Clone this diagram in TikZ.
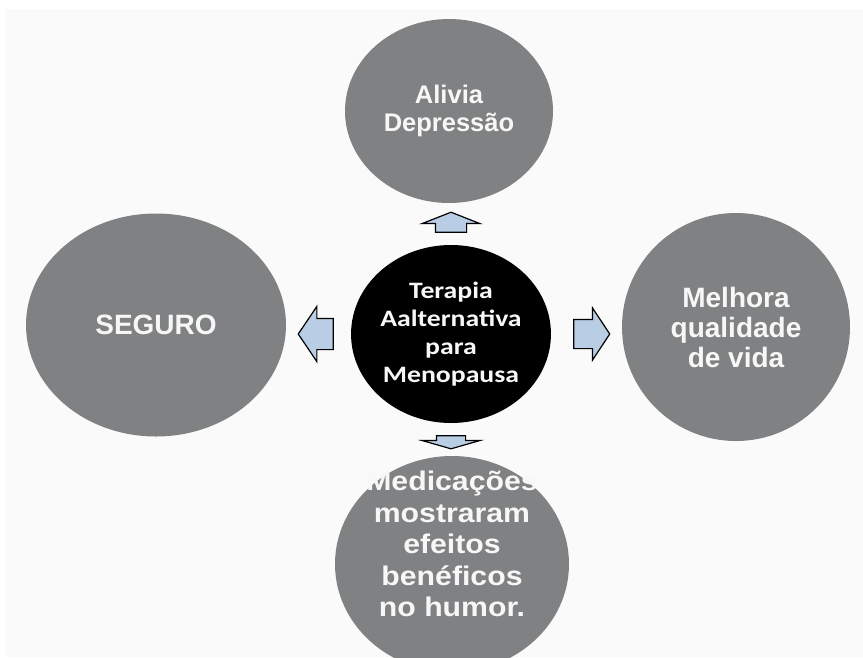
\documentclass[tikz,border=0pt]{standalone}
\usepackage{fontspec}
\setmainfont{Liberation Sans}
\newfontfamily\arialbreit[FakeStretch=1.12]{Liberation Sans}
\newfontfamily\calibrilargo[FakeStretch=1.18]{Carlito}
\usepackage{tikz}
\usetikzlibrary{positioning, shapes.geometric, shapes.arrows}

\definecolor{cinza}{HTML}{808182}
\definecolor{seta}{HTML}{B9CDE5}
\definecolor{fundo}{HTML}{FAFAFA}
\definecolor{branco}{HTML}{F7F7F7}

\begin{document}
\begin{tikzpicture}[x=1pt, y=-1pt,
  bolha/.style={ellipse, fill=cinza, inner sep=0pt, text=branco, align=center,
    font=\bfseries\fontsize{28}{30}\selectfont},
  rotulo/.style={inner sep=0pt, text=branco, align=center},
  seta/.style={single arrow, draw=black, fill=seta, line width=1.2pt,
    single arrow head indent=0pt}]
  \useasboundingbox (0,0) rectangle (863,657);
  \fill[fundo] (6,9) rectangle (863,657);

  \node[ellipse, fill=black, minimum width=190pt, minimum height=178pt, inner sep=0pt,
    text=branco, align=center, font=\calibrilargo\bfseries\fontsize{23.5}{28}\selectfont]
    (centro) at (451,334) {Terapia\\Aalternativa\\para\\Menopausa};
  \node[bolha, minimum width=208pt, minimum height=184pt,
    font=\bfseries\fontsize{25.5}{28}\selectfont] (alivia) at (449,111) {Alivia\\Depressão};
  \node[bolha, minimum width=260pt, minimum height=223pt] (seguro) at (156,325) {SEGURO};
  \node[bolha, minimum width=228pt, minimum height=228pt] (melhora) at (736,327)
    {Melhora\\qualidade\\de vida};
  \node[bolha, minimum width=234pt, minimum height=216pt,
    label={[rotulo, yshift=20pt, font=\arialbreit\bfseries\fontsize{27}{31.5}\selectfont]center:{Medicações\\mostraram\\efeitos\\benéficos\\no humor.}}]
    (humor) at (452,564) {};

  \node[seta, shape border rotate=90, inner xsep=15pt, inner ysep=0pt,
    minimum height=20pt, single arrow head extend=13pt, single arrow tip angle=137,
    above=12pt of centro, anchor=tail] (seta cima) {};
  \node[seta, shape border rotate=270, inner xsep=14pt, inner ysep=0pt,
    minimum height=13pt, single arrow head extend=14.5pt, single arrow tip angle=148,
    below=12pt of centro, anchor=tail] (seta baixo) {};
  \node[seta, shape border rotate=180, inner ysep=15pt, inner xsep=0pt,
    minimum height=35pt, single arrow head extend=12pt, single arrow tip angle=112,
    left=17pt of centro, anchor=tail] (seta esquerda) {};
  \node[seta, inner ysep=14pt, inner xsep=0pt,
    minimum height=36pt, single arrow head extend=11.5pt, single arrow tip angle=113,
    right=22pt of centro, anchor=tail] (seta direita) {};
\end{tikzpicture}
\end{document}
